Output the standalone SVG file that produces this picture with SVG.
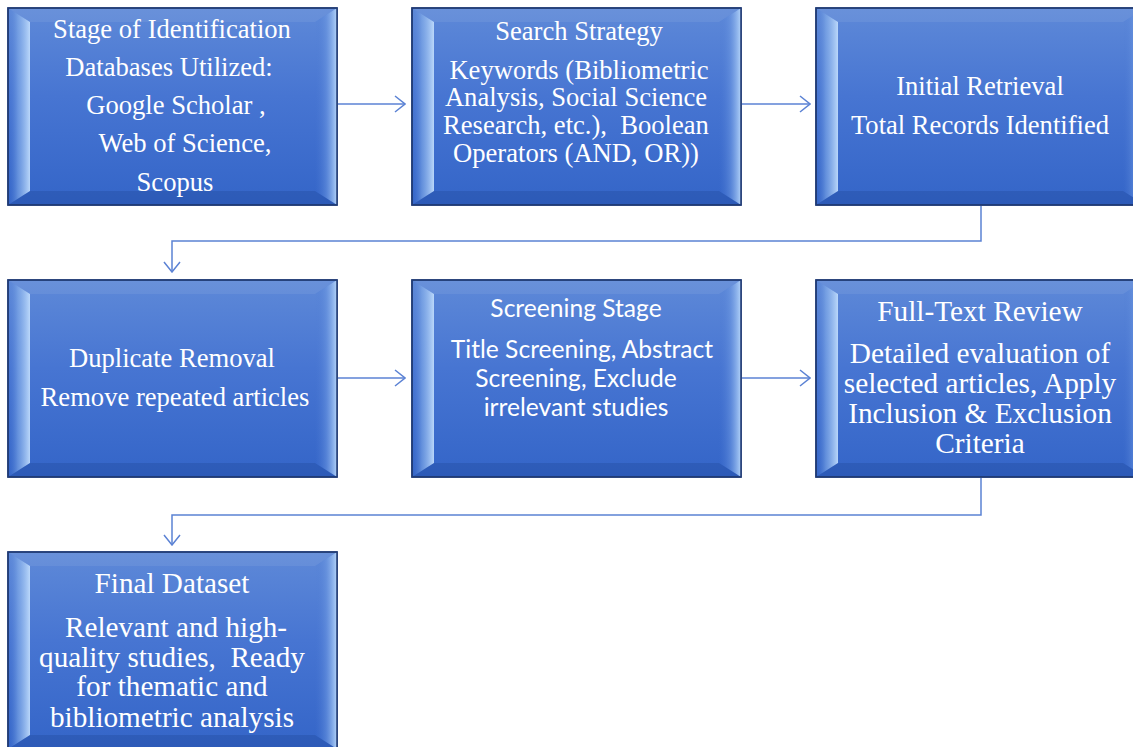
<svg xmlns="http://www.w3.org/2000/svg" width="1133" height="747" viewBox="0 0 1133 747">
<defs>
<linearGradient id="face" x1="0" y1="0" x2="0" y2="1">
<stop offset="0" stop-color="#5e89d8"/>
<stop offset="0.45" stop-color="#4775d2"/>
<stop offset="1" stop-color="#3465c8"/>
</linearGradient>
<linearGradient id="bl" x1="0" y1="0" x2="1" y2="0">
<stop offset="0" stop-color="#4a78d2" stop-opacity="0"/>
<stop offset="0.45" stop-color="#8fb8ee" stop-opacity="0.5"/>
<stop offset="1" stop-color="#c0dcfc" stop-opacity="0.95"/>
</linearGradient>
<linearGradient id="br" x1="0" y1="0" x2="1" y2="0">
<stop offset="0" stop-color="#4a78d2" stop-opacity="0"/>
<stop offset="0.5" stop-color="#6f9ae2" stop-opacity="0.5"/>
<stop offset="1" stop-color="#b8d8fb" stop-opacity="0.95"/>
</linearGradient>
<marker id="ah" viewBox="0 0 12 18" refX="11" refY="9" markerWidth="12" markerHeight="18" markerUnits="userSpaceOnUse" orient="auto">
<path d="M1,1 L11,9 L1,17" fill="none" stroke="#5b82d4" stroke-width="1.5"/>
</marker>
<g id="bevel">
<rect x="0" y="0" width="329" height="197" fill="url(#face)" stroke="#223f7c" stroke-width="1.5"/>
<polygon points="0,0 329,0 307,14 22,14" fill="#ffffff" fill-opacity="0.07"/>
<polygon points="0,0 22,14 22,183 0,197" fill="url(#bl)"/>
<polygon points="329,0 307,14 307,183 329,197" fill="url(#br)"/>
<polygon points="0,197 22,183 307,183 329,197" fill="#0a2a70" fill-opacity="0.18"/>
<rect x="0" y="0" width="329" height="197" fill="none" stroke="#1f3a73" stroke-width="1.5"/>
</g>
</defs>
<style>
.s{font-family:"Liberation Serif","Times New Roman",serif;fill:#ffffff;text-anchor:middle;}
.c{font-family:Lato,"Open Sans",sans-serif;fill:#ffffff;text-anchor:middle;}
.ln{fill:none;stroke:#5b82d4;stroke-width:1.5;}
.pre{white-space:pre;}
</style>
<g id="connectors">
<line class="ln" x1="338" y1="104" x2="405" y2="104" marker-end="url(#ah)"/>
<line class="ln" x1="742" y1="104" x2="810" y2="104" marker-end="url(#ah)"/>
<polyline class="ln" points="981,206 981,241 172,241 172,272" marker-end="url(#ah)"/>
<line class="ln" x1="338" y1="378" x2="405" y2="378" marker-end="url(#ah)"/>
<line class="ln" x1="742" y1="378" x2="810" y2="378" marker-end="url(#ah)"/>
<polyline class="ln" points="981,478 981,515 172,515 172,545" marker-end="url(#ah)"/>
</g>
<g id="n1">
<use href="#bevel" x="8" y="8"/>
<text class="s" font-size="26.6"><tspan x="172" y="38">Stage of Identification</tspan><tspan x="169" y="76">Databases Utilized:</tspan><tspan x="176" y="114">Google Scholar ,</tspan><tspan x="185" y="152">Web of Science,</tspan><tspan x="175" y="191">Scopus</tspan></text>
</g>
<g id="n2">
<use href="#bevel" x="412" y="8"/>
<text class="s" font-size="26.6"><tspan x="579" y="40">Search Strategy</tspan><tspan x="579" y="79">Keywords (Bibliometric</tspan><tspan x="576" y="106">Analysis, Social Science</tspan><tspan class="pre" x="576" y="134">Research, etc.),  Boolean</tspan><tspan x="576" y="162">Operators (AND, OR))</tspan></text>
</g>
<g id="n3">
<use href="#bevel" x="816" y="8"/>
<text class="s" font-size="26.6"><tspan x="980" y="95">Initial Retrieval</tspan><tspan x="980" y="134">Total Records Identified</tspan></text>
</g>
<g id="n4">
<use href="#bevel" x="8" y="280"/>
<text class="s" font-size="26.6"><tspan x="172" y="367">Duplicate Removal</tspan><tspan x="175" y="406">Remove repeated articles</tspan></text>
</g>
<g id="n5">
<use href="#bevel" x="412" y="280"/>
<text class="c" font-size="24.6"><tspan x="576" y="317">Screening Stage</tspan><tspan x="582" y="358">Title Screening, Abstract</tspan><tspan x="576" y="387">Screening, Exclude</tspan><tspan x="576" y="416">irrelevant studies</tspan></text>
</g>
<g id="n6">
<use href="#bevel" x="816" y="280"/>
<text class="s" font-size="29.3"><tspan x="980" y="321">Full-Text Review</tspan><tspan x="980" y="363">Detailed evaluation of</tspan><tspan x="980" y="393">selected articles, Apply</tspan><tspan x="980" y="423">Inclusion &amp; Exclusion</tspan><tspan x="980" y="453">Criteria</tspan></text>
</g>
<g id="n7">
<use href="#bevel" x="8" y="552"/>
<text class="s" font-size="29.2"><tspan x="172" y="593">Final Dataset</tspan><tspan x="176" y="637">Relevant and high-</tspan><tspan class="pre" x="172" y="667">quality studies,  Ready</tspan><tspan x="172" y="696">for thematic and</tspan><tspan x="172" y="727">bibliometric analysis</tspan></text>
</g>
</svg>
